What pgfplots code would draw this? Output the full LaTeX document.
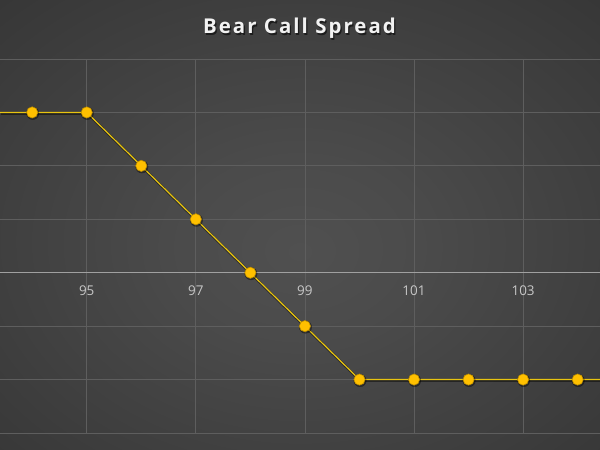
\documentclass[border=0pt]{standalone}
\usepackage{fontspec}
\setmainfont{Open Sans}
\usepackage{pgfplots}
\pgfplotsset{compat=1.18}

\definecolor{bgin}{HTML}{505050}
\definecolor{bgout}{HTML}{2E2E2E}
\definecolor{gridc}{HTML}{5E5E5E}
\definecolor{zeroc}{HTML}{A0A0A0}
\definecolor{tickc}{HTML}{C8C8C8}
\definecolor{gold}{HTML}{FFC000}
\definecolor{goldline}{HTML}{E8C410}
\definecolor{golddark}{HTML}{7A5A00}

\pgfdeclareradialshading{chartbg}{\pgfpoint{0bp}{-3bp}}{%
  color(0bp)=(bgin); color(10bp)=(bgin!85!bgout); color(48bp)=(bgout); color(60bp)=(bgout)}

\begin{document}
\begin{tikzpicture}[x=1bp,y=1bp]
\useasboundingbox (0,0) rectangle (600,450);
\shade[shading=chartbg] (0,0) rectangle (600,450);
\newfontfamily\titlefont[LetterSpace=10]{Open Sans Bold}
\node[text=black, opacity=0.55, font=\fontsize{20.5}{24}\titlefont, anchor=base] at (300.8,414.8) {Bear Call Spread};
\node[text=white!95!black, font=\fontsize{20.5}{24}\titlefont, anchor=base] at (299.5,416) {Bear Call Spread};

\begin{axis}[
    at={(0bp,17bp)}, anchor=south west,
    scale only axis,
    width=600bp, height=374bp,
    xmin=93.41, xmax=104.41,
    ymin=-3, ymax=4,
    axis x line*=middle,
    axis y line*=left,
    y axis line style={draw=none},
    x axis line style={draw=zeroc, line width=0.9bp, -},
    xtick={95,97,99,101,103},
    ytick={-3,-2,-1,0,1,2,3,4},
    yticklabels={},
    yticklabel style={inner sep=0pt, outer sep=0pt},
    major tick length=0pt,
    xmajorgrids, ymajorgrids,
    grid style={draw=gridc, line width=0.7bp},
    tick label style={text=tickc, font=\fontsize{13.5}{15}\selectfont},
    xticklabel style={yshift=-10bp},
    /pgf/number format/assume math mode=true,
    clip=true,
]
% shadow of the payoff line
\addplot[draw=black, opacity=0.45, line width=2.4bp, no markers, xshift=0.8bp, yshift=-1.2bp]
    coordinates {(93.41,3) (95,3) (100,-2) (104.41,-2)};
\addplot[draw=goldline, line width=1.2bp, no markers]
    coordinates {(93.41,3) (95,3) (100,-2) (104.41,-2)};
% markers
\addplot[only marks, mark=*, mark size=6.2bp, mark options={draw=none, fill=black, opacity=0.35}, xshift=0.6bp, yshift=-1bp]
    coordinates {(94,3) (95,3) (96,2) (97,1) (98,0) (99,-1) (100,-2) (101,-2) (102,-2) (103,-2) (104,-2)};
\addplot[only marks, mark=*, mark size=5.6bp, mark options={draw=golddark!50!gold, line width=0.6bp, fill=gold}]
    coordinates {(94,3) (95,3) (96,2) (97,1) (98,0) (99,-1) (100,-2) (101,-2) (102,-2) (103,-2) (104,-2)};
\end{axis}
\end{tikzpicture}
\end{document}
